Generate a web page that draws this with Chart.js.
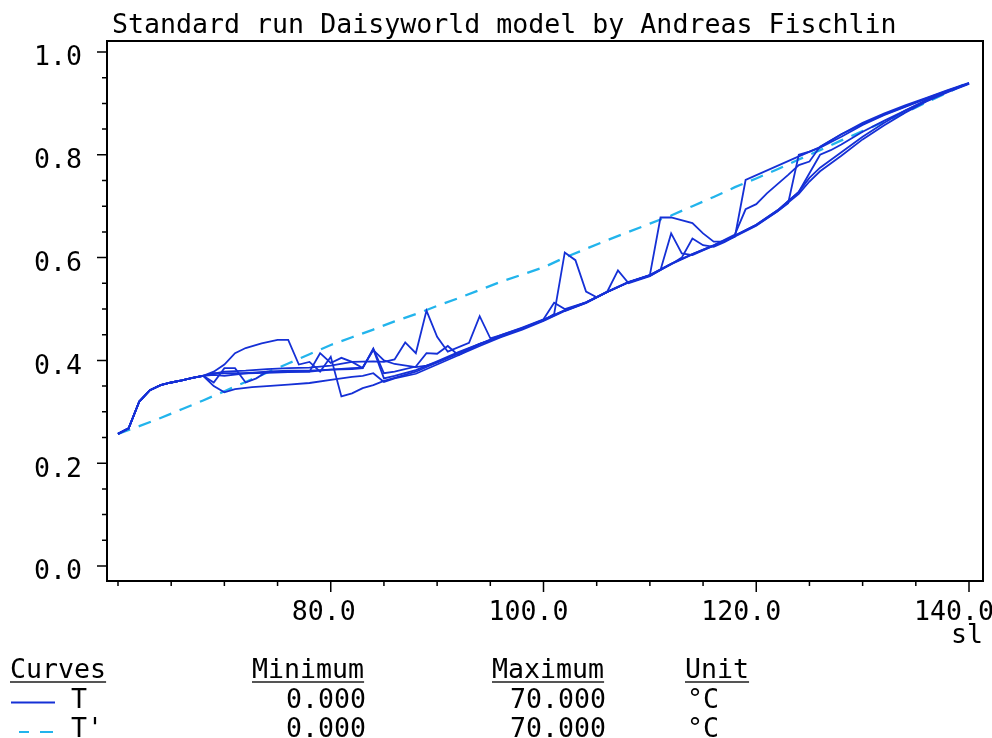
<!DOCTYPE html>
<html>
<head>
<meta charset="utf-8">
<script src="https://cdn.jsdelivr.net/npm/chart.js@4.4.1/dist/chart.umd.min.js"></script>
<style>
  body { margin: 0; background: #fff; }
  #wrap { position: relative; width: 992px; height: 738px; }
  canvas { position: absolute; left: 0; top: 0; }
  .t { position: absolute; font-family: "DejaVu Sans Mono", monospace; font-size: 26.6px;
       line-height: 26.6px; color: #000; white-space: pre; }
  .u { text-decoration: underline; text-decoration-color: #555; text-underline-offset: 3px; }
</style>
</head>
<body>
<div id="wrap">
  <canvas id="chart1" width="992" height="738"></canvas>
  <div class="t" style="left:112px;top:11px">Standard run Daisyworld model by Andreas Fischlin</div>
  <div class="t u" style="left:10px;top:656px">Curves</div>
  <div class="t u" style="left:252px;top:656px">Minimum</div>
  <div class="t u" style="left:492px;top:656px">Maximum</div>
  <div class="t u" style="left:685px;top:656px">Unit</div>
  <div class="t" style="left:71px;top:686px">T</div>
  <div class="t" style="left:286px;top:686px">0.000</div>
  <div class="t" style="left:510px;top:686px">70.000</div>
  <div class="t" style="left:687px;top:686px">°C</div>
  <div class="t" style="left:71px;top:715px">T'</div>
  <div class="t" style="left:286px;top:715px">0.000</div>
  <div class="t" style="left:510px;top:715px">70.000</div>
  <div class="t" style="left:687px;top:715px">°C</div>
</div>
<script>
// sl (x) and T (y) for each simulation run
const runA_sl = [60,61,62,63,64,65,66,67,68,69,70,71,72,73.5,75,76,77,78,79,80,81,82,83,84,85,86,88,90,92,94,96,98,100,102,104,106,108,110,112,114,116,118,120,122,124,125,126,127,128,130,132,134,136,138,140];
const runA_T  = [0.257,0.268,0.320,0.342,0.352,0.357,0.361,0.366,0.370,0.378,0.392,0.414,0.424,0.433,0.440,0.440,0.392,0.397,0.378,0.407,0.330,0.336,0.346,0.352,0.360,0.366,0.378,0.396,0.414,0.432,0.447,0.462,0.478,0.497,0.512,0.533,0.552,0.565,0.587,0.606,0.623,0.642,0.663,0.690,0.724,0.748,0.768,0.783,0.798,0.830,0.857,0.882,0.904,0.922,0.938];

const runB_sl = [60,61,62,63,64,65,66,67,68,69,70,72,74,76,78,80,82,84,85,86,87,88,89,90,91,93,94,95,96,98,100,102,104,106,108,110,111,112,114,115,116,117,118,120,122,124,125,126,127,128,130,132,134,136,138,140];
const runB_T  = [0.257,0.268,0.320,0.342,0.352,0.357,0.361,0.366,0.370,0.374,0.378,0.380,0.383,0.385,0.386,0.390,0.397,0.398,0.397,0.402,0.435,0.414,0.497,0.446,0.417,0.434,0.486,0.443,0.449,0.463,0.479,0.498,0.513,0.534,0.553,0.566,0.678,0.678,0.667,0.647,0.631,0.631,0.643,0.664,0.692,0.728,0.755,0.775,0.790,0.805,0.835,0.862,0.886,0.907,0.924,0.939];

const runC_sl = [60,61,62,63,64,65,66,67,68,69,70,72,74,76,78,80,82,83,84,85,86,88,90,92,94,96,98,100,101,102,103,104,105,106,107,108,110,111,112,113,114,116,118,119,124,126,128,130,132,134,136,138,140];
const runC_T  = [0.257,0.268,0.320,0.342,0.352,0.357,0.361,0.366,0.370,0.372,0.370,0.375,0.378,0.380,0.380,0.382,0.383,0.385,0.422,0.365,0.370,0.381,0.398,0.416,0.432,0.446,0.462,0.478,0.490,0.610,0.595,0.534,0.523,0.534,0.575,0.550,0.564,0.576,0.647,0.608,0.605,0.623,0.641,0.751,0.797,0.815,0.840,0.862,0.880,0.896,0.911,0.926,0.940];

const runD_sl = [60,61,62,63,64,65,66,67,68,69,70,71,72,73,74,76,78,79,80,81,82,83,84,85,86,88,89,90,91,92,94,96,98,100,101,102,104,106,108,110,112,114,116,118,119,120,121,123,124,125,126,128,130,132,134,136,138,140];
const runD_T  = [0.257,0.268,0.320,0.342,0.352,0.357,0.361,0.366,0.370,0.357,0.385,0.385,0.357,0.365,0.378,0.378,0.378,0.414,0.395,0.405,0.397,0.385,0.423,0.375,0.378,0.388,0.414,0.413,0.428,0.410,0.432,0.449,0.464,0.480,0.512,0.500,0.513,0.533,0.552,0.566,0.588,0.607,0.624,0.645,0.694,0.704,0.725,0.761,0.780,0.787,0.816,0.840,0.860,0.878,0.894,0.910,0.925,0.939];

const runE_sl = [60,61,62,63,64,65,66,67,68,69,70,71,72.6,74,76,78,80,82,83,84,85,86,88,90,92,94,96,98,100,102,104,106,108,110,112,113,114,115,116,117,118,120,122,123,124,125,126,128,130,132,134,136,138,140];
const runE_T  = [0.257,0.268,0.320,0.342,0.352,0.357,0.361,0.366,0.370,0.350,0.338,0.344,0.348,0.350,0.353,0.356,0.362,0.368,0.370,0.375,0.358,0.365,0.374,0.392,0.410,0.428,0.445,0.460,0.477,0.496,0.512,0.533,0.552,0.565,0.587,0.600,0.637,0.624,0.621,0.630,0.641,0.662,0.690,0.706,0.800,0.806,0.814,0.835,0.858,0.877,0.893,0.909,0.924,0.939];

const runF_sl = [60,61,62,63,64,65,66,67,68,69,70,72,74,76,78,80,82,83,84,85,86,88,89,90,92,94,96,98,100,102,104,106,108,110,112,114,116,118,120,122,124,125,126,127,128,130,132,134,136,138,140];
const runF_T  = [0.257,0.268,0.320,0.342,0.352,0.357,0.361,0.366,0.370,0.375,0.375,0.375,0.376,0.377,0.378,0.382,0.385,0.386,0.420,0.400,0.393,0.387,0.390,0.396,0.413,0.431,0.447,0.462,0.479,0.497,0.513,0.533,0.552,0.566,0.588,0.607,0.624,0.643,0.664,0.692,0.728,0.764,0.800,0.809,0.820,0.845,0.866,0.886,0.905,0.923,0.939];

// T' (dashed)
const tp_sl = [60,62,64,66,68,70,72,74,76,78,80,82,84,86,88,90,92,94,96,98,100,102,104,106,108,110,112,114,116,118,120,122,124,126,128,130,132,134,136,138,140];
const tp_T  = [0.257,0.272,0.288,0.305,0.322,0.340,0.358,0.376,0.394,0.412,0.430,0.445,0.460,0.476,0.490,0.506,0.521,0.537,0.553,0.567,0.581,0.600,0.617,0.634,0.650,0.666,0.682,0.700,0.718,0.737,0.754,0.772,0.791,0.809,0.828,0.846,0.864,0.882,0.902,0.921,0.942];

// axis ticks
const xMajor = [80, 100, 120, 140];
const xLabels = ['80.0', '100.0', '120.0', '140.0'];
const xMinor = [60, 65, 70, 75, 85, 90, 95, 105, 110, 115, 125, 130, 135];
const yMajor = [0, 0.2, 0.4, 0.6, 0.8, 1.0];
const yLabels = ['0.0', '0.2', '0.4', '0.6', '0.8', '1.0'];
const yMinor = [0.05, 0.1, 0.15, 0.25, 0.3, 0.35, 0.45, 0.5, 0.55, 0.65, 0.7, 0.75, 0.85, 0.9, 0.95];

const blue = '#1530d6';
const cyan = '#22b4ec';

function pts(xs, ys) { return xs.map((v, i) => ({ x: v, y: ys[i] })); }

const runs = [[runA_sl, runA_T], [runB_sl, runB_T], [runC_sl, runC_T],
              [runD_sl, runD_T], [runE_sl, runE_T], [runF_sl, runF_T]];

const datasets = runs.map(r => ({
  label: 'T', data: pts(r[0], r[1]), borderColor: blue, borderWidth: 1.8, fill: false
}));
datasets.push({ label: "T'", data: pts(tp_sl, tp_T), borderColor: cyan, borderWidth: 2.3,
  borderDash: [13, 9], fill: false });

const axesPlugin = {
  id: 'axes',
  afterDraw(chart) {
    const { ctx, chartArea: a, scales: { x, y } } = chart;
    ctx.save();
    ctx.setLineDash([]);
    ctx.strokeStyle = '#000';
    ctx.lineWidth = 2;
    ctx.strokeRect(a.left, a.top, a.right - a.left, a.bottom - a.top);

    ctx.lineWidth = 1.5;
    ctx.beginPath();
    yMajor.forEach(v => { const p = y.getPixelForValue(v); ctx.moveTo(a.left - 10, p); ctx.lineTo(a.left, p); });
    yMinor.forEach(v => { const p = y.getPixelForValue(v); ctx.moveTo(a.left - 5, p); ctx.lineTo(a.left, p); });
    xMajor.forEach(v => { const p = x.getPixelForValue(v); ctx.moveTo(p, a.bottom); ctx.lineTo(p, a.bottom + 11); });
    xMinor.forEach(v => { const p = x.getPixelForValue(v); ctx.moveTo(p, a.bottom); ctx.lineTo(p, a.bottom + 5); });
    ctx.stroke();

    ctx.fillStyle = '#000';
    ctx.font = '26.6px "DejaVu Sans Mono"';
    ctx.textBaseline = 'alphabetic';
    ctx.textAlign = 'right';
    yMajor.forEach((v, i) => ctx.fillText(yLabels[i], 82, y.getPixelForValue(v) + 13.5));
    xMajor.forEach((v, i) => ctx.fillText(xLabels[i], x.getPixelForValue(v) + 25, 620));
    ctx.fillText('sl', 983, 643);

    // legend samples
    ctx.lineWidth = 2;
    ctx.strokeStyle = blue;
    ctx.beginPath(); ctx.moveTo(11, 702.5); ctx.lineTo(55, 702.5); ctx.stroke();
    ctx.strokeStyle = cyan;
    ctx.beginPath();
    ctx.moveTo(19, 732); ctx.lineTo(29, 732);
    ctx.moveTo(40, 732); ctx.lineTo(53, 732);
    ctx.stroke();
    ctx.restore();
  }
};

new Chart('chart1', {
  type: 'line',
  data: { datasets: datasets },
  options: {
    responsive: false,
    animation: false,
    devicePixelRatio: 1,
    layout: { padding: { left: 107, top: 41, right: 9, bottom: 157 } },
    scales: {
      x: { type: 'linear', display: false, min: 58.966, max: 141.316 },
      y: { type: 'linear', display: false, min: -0.0292, max: 1.0214 }
    },
    elements: { point: { radius: 0 }, line: { tension: 0 } },
    plugins: { legend: { display: false }, tooltip: { enabled: false } }
  },
  plugins: [axesPlugin]
});
</script>
</body>
</html>
